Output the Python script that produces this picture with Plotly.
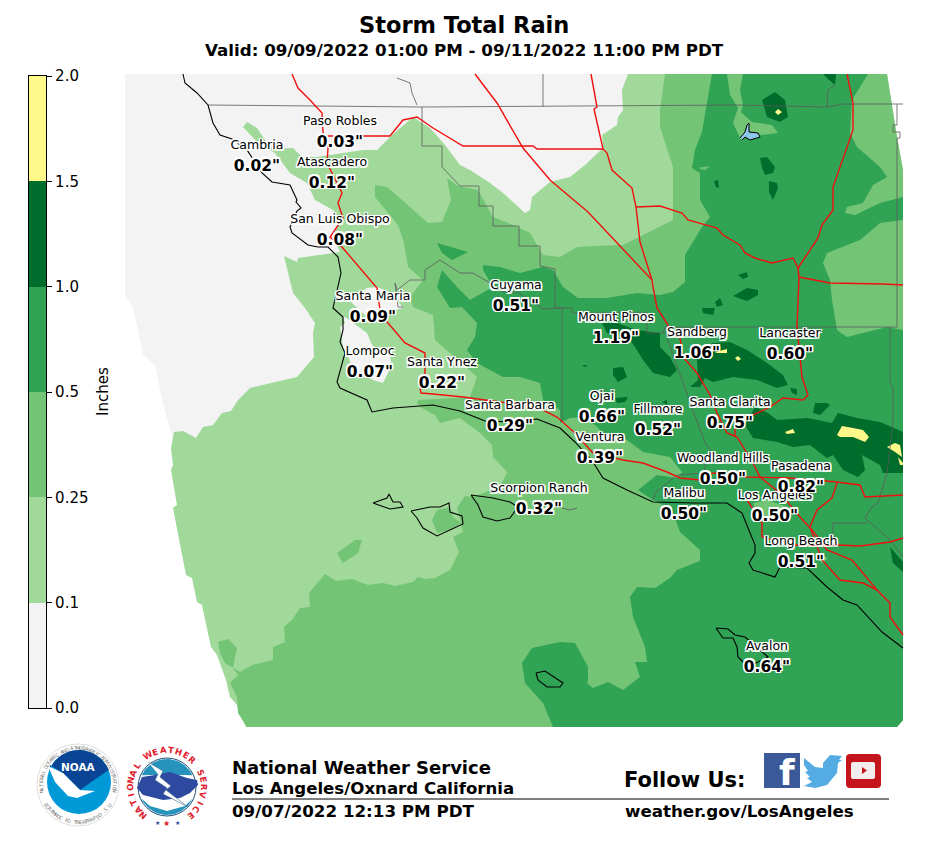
import numpy as np
import plotly.graph_objects as go

# page is 928x853, plotly sits 8px in because of the body margin
PAD = 8
W, H = 912, 837

FONT = "DejaVu Sans"
GREY, R010, R025, R050, R100, R150 = "#F3F3F3", "#A1D99B", "#74C476", "#31A354", "#006D2C", "#FFF98A"

# colour bar
band_labels = ["0.0", "0.1", "0.25", "0.5", "1.0", "1.5", "2.0"]
band_colors = [GREY, R010, R025, R050, R100, R150]

# rain areas (page pixels)
domain = [(125, 74), (887, 74), (897, 137), (903, 170), (903, 720), (897, 727), (246, 727), (240, 715), (237, 705),
          (230, 697), (226, 680), (217, 655), (211, 647), (202, 605), (197, 602), (192, 578), (186, 575), (173, 508),
          (177, 505), (171, 470), (173, 465), (171, 448), (174, 443), (162, 400), (155, 365), (143, 355), (133, 307),
          (125, 295)]
rain_010 = [[(246, 727), (240, 715), (237, 705), (230, 697), (226, 680), (217, 655), (211, 647), (202, 605), (197, 602),
             (192, 578), (186, 575), (173, 508), (177, 505), (171, 470), (173, 465), (171, 448), (174, 432), (183, 431),
             (196, 438), (203, 427), (213, 425), (222, 413), (231, 411), (238, 400), (250, 388), (297, 377), (314, 357),
             (313, 333), (315, 323), (305, 308), (293, 293), (284, 256), (297, 262), (298, 258), (340, 252), (333, 237),
             (340, 220), (333, 210), (315, 200), (307, 183), (290, 173), (275, 153), (260, 145), (243, 127), (247, 122),
             (257, 128), (267, 143), (275, 149), (293, 148), (302, 157), (317, 157), (363, 150), (377, 150), (392, 135),
             (413, 117), (430, 128), (445, 145), (460, 165), (470, 170), (490, 183), (503, 193), (525, 213), (530, 210),
             (532, 197), (550, 182), (570, 177), (585, 165), (603, 148), (602, 135), (617, 125), (618, 117), (623, 110),
             (622, 90), (627, 77), (628, 74), (887, 74), (897, 137), (903, 170), (903, 720), (897, 727)]]
grey_holes = [[(350, 300), (367, 288), (377, 287), (392, 293), (403, 308), (383, 313), (367, 317), (352, 303)],
              [(343, 317), (345, 323), (340, 327), (343, 347), (347, 353), (353, 370), (373, 380), (383, 383),
               (392, 365), (390, 357), (372, 345), (367, 333), (345, 317)]]
rain_025 = [[(247, 727), (238, 713), (237, 697), (230, 683), (238, 675), (233, 668), (235, 657), (237, 648), (228, 639),
             (218, 642), (220, 653), (225, 663), (240, 672), (252, 665), (273, 660), (273, 647), (285, 642), (284, 627),
             (292, 620), (300, 608), (310, 607), (309, 593), (325, 574), (336, 581), (352, 579), (368, 585), (383, 583),
             (395, 586), (413, 582), (418, 577), (425, 579), (435, 578), (450, 570), (459, 552), (453, 537), (463, 532),
             (457, 508), (465, 496), (472, 497), (500, 487), (507, 472), (493, 457), (492, 445), (480, 433), (460, 418),
             (440, 423), (435, 415), (420, 407), (417, 403), (418, 400), (470, 397), (477, 377), (450, 353), (435, 340),
             (433, 315), (413, 307), (410, 297), (423, 280), (408, 267), (404, 243), (398, 225), (375, 197), (375, 185),
             (387, 187), (410, 207), (428, 223), (442, 222), (451, 200), (447, 178), (458, 186), (478, 190), (493, 217),
             (518, 227), (530, 233), (543, 255), (560, 257), (577, 247), (593, 246), (623, 245), (647, 233), (673, 220),
             (673, 167), (660, 127), (660, 110), (665, 74), (887, 74), (897, 137), (903, 170), (903, 720), (897, 727)],
            [(432, 520), (437, 510), (450, 507), (453, 517), (462, 523), (450, 530), (437, 533)],
            [(337, 553), (355, 540), (362, 540), (358, 553), (343, 563)]]
rain_050 = [[(712, 74), (868, 74), (852, 100), (850, 133), (857, 147), (880, 167), (887, 177), (873, 185), (863, 203),
             (847, 207), (845, 213), (855, 215), (880, 203), (897, 198), (903, 197), (903, 220), (880, 223), (860, 240),
             (827, 253), (823, 263), (830, 280), (832, 300), (837, 330), (847, 337), (887, 327), (903, 330), (903, 720),
             (897, 727), (553, 727), (543, 703), (525, 683), (522, 663), (532, 648), (560, 642), (575, 643), (588, 667),
             (588, 680), (587, 683), (593, 688), (608, 682), (623, 690), (640, 677), (635, 662), (647, 662), (645, 647),
             (633, 617), (630, 597), (637, 587), (655, 588), (670, 578), (677, 570), (700, 561), (700, 550), (680, 532),
             (672, 510), (653, 500), (638, 490), (657, 475), (677, 478), (682, 472), (670, 457), (643, 452), (627, 440),
             (603, 433), (595, 425), (583, 417), (570, 418), (560, 423), (560, 410), (543, 400), (540, 383), (520, 377),
             (503, 377), (477, 363), (467, 350), (475, 337), (477, 323), (462, 307), (450, 308), (437, 287), (442, 270),
             (457, 287), (470, 300), (493, 287), (483, 270), (483, 265), (500, 267), (520, 273), (543, 267), (553, 270),
             (563, 287), (578, 298), (607, 298), (637, 293), (660, 295), (673, 292), (685, 282), (685, 255), (702, 227),
             (710, 217), (700, 200), (700, 173), (692, 168), (695, 150), (702, 132), (708, 97)],
            [(437, 243), (468, 252), (452, 260), (442, 253)]]
pale_spots = [[(727, 74), (743, 74), (740, 90), (743, 105), (741, 112), (752, 122), (772, 125), (778, 133), (740, 138),
               (733, 123), (738, 108), (730, 95)],
              [(698, 168), (710, 166), (705, 170)],
              [(813, 553), (828, 558), (822, 563)],
              [(753, 503), (767, 500), (788, 507), (780, 520), (760, 520)]]
rain_100 = [[(762, 100), (775, 92), (785, 100), (788, 117), (780, 122), (767, 117)],
            [(823, 74), (836, 74), (835, 85), (828, 79)],
            [(760, 158), (767, 157), (775, 167), (773, 173), (765, 175), (762, 168)],
            [(714, 181), (718, 180), (719, 188), (716, 187)],
            [(769, 181), (777, 183), (778, 188), (773, 200), (769, 192)],
            [(738, 275), (747, 272), (748, 277), (743, 279)],
            [(733, 296), (747, 288), (758, 290), (758, 295), (747, 301)],
            [(715, 302), (720, 298), (723, 305), (717, 307)],
            [(702, 308), (715, 308), (713, 315), (703, 313)],
            [(602, 323), (617, 323), (637, 330), (660, 333), (660, 347), (670, 357), (677, 370), (670, 377), (653, 373),
             (643, 360), (635, 347), (628, 337), (607, 333)],
            [(613, 368), (623, 367), (627, 377), (618, 382), (613, 375)],
            [(615, 398), (628, 397), (625, 402), (617, 403)],
            [(662, 402), (667, 400), (667, 405)],
            [(582, 365), (588, 365), (585, 367)],
            [(697, 358), (703, 347), (713, 343), (730, 342), (747, 350), (767, 363), (783, 375), (788, 385), (777, 388),
             (757, 380), (733, 377), (713, 382), (705, 378), (700, 387), (690, 387), (698, 380)],
            [(790, 388), (797, 389), (797, 395), (792, 393)],
            [(815, 403), (827, 403), (830, 405), (820, 415), (813, 413)],
            [(745, 425), (755, 407), (768, 413), (777, 420), (808, 418), (832, 423), (838, 413), (857, 418), (880, 422),
             (903, 432), (903, 473), (883, 473), (880, 465), (862, 455), (865, 470), (858, 477), (843, 470), (833, 455),
             (827, 458), (810, 445), (793, 447), (777, 442), (753, 438)],
            [(890, 547), (903, 562), (903, 572), (893, 563)]]
rain_150 = [[(775, 112), (778, 109), (782, 112), (778, 115)],
            [(715, 352), (727, 349), (727, 353), (717, 353)],
            [(735, 358), (738, 356), (741, 359), (738, 361)],
            [(785, 432), (793, 429), (795, 433), (787, 434)],
            [(837, 435), (842, 426), (853, 428), (863, 430), (869, 437), (865, 442), (853, 437), (840, 437)],
            [(887, 447), (895, 443), (900, 445), (902, 457), (895, 452)],
            [(898, 457), (903, 463), (903, 465), (900, 465)]]
lake = [[(740, 138), (745, 132), (747, 125), (749, 123), (749, 132), (758, 133), (760, 137), (750, 140), (745, 137),
         (742, 140)]]

# base map lines
coast = [[(183, 74), (185, 83), (197, 93), (208, 105), (213, 123), (220, 135), (232, 139), (247, 150), (262, 173),
          (272, 182), (290, 185), (297, 200), (296, 202), (301, 208), (297, 211), (290, 227), (292, 233), (308, 245),
          (318, 247), (328, 247), (338, 257), (341, 273), (333, 308), (343, 317), (343, 330), (340, 342), (345, 353),
          (337, 382), (340, 388), (367, 400), (372, 412), (393, 408), (433, 405), (460, 411), (485, 421), (513, 422),
          (537, 419), (560, 428), (575, 442), (593, 462), (603, 478), (627, 490), (653, 502), (693, 503), (727, 503),
          (742, 513), (755, 545), (755, 553), (749, 563), (753, 570), (775, 577), (778, 571), (780, 567), (807, 568),
          (827, 587), (843, 600), (857, 605), (882, 632), (903, 648)]]
islands = [[(373, 503), (387, 498), (389, 494), (393, 502), (400, 502), (403, 507), (390, 509), (380, 505), (373, 503)],
           [(411, 511), (430, 507), (440, 507), (449, 503), (450, 512), (462, 516), (463, 524), (450, 530), (437, 536),
            (423, 528), (417, 518), (411, 511)],
           [(471, 495), (493, 498), (510, 502), (518, 507), (510, 518), (497, 521), (483, 517), (478, 505), (471, 495)],
           [(716, 628), (728, 629), (735, 635), (745, 637), (768, 657), (748, 667), (738, 657), (737, 647), (733, 638),
            (723, 638), (716, 628)],
           [(536, 673), (545, 671), (563, 683), (560, 687), (547, 687), (538, 680), (536, 673)]]
highways = [[(292, 74), (298, 88), (310, 100), (322, 113), (323, 132), (328, 148), (327, 163), (342, 193), (338, 203),
             (343, 218), (330, 237), (342, 247), (377, 288), (380, 310), (388, 323), (405, 343), (425, 353), (425, 373),
             (420, 388), (421, 393), (433, 394), (463, 397), (500, 402), (537, 407), (557, 417), (575, 433), (593, 453),
             (623, 460), (643, 463), (667, 472), (680, 478), (700, 480), (713, 473), (747, 477), (790, 478), (837, 482),
             (860, 485), (865, 497), (903, 495)],
            [(323, 136), (365, 136), (390, 136), (403, 120), (417, 117), (433, 128), (463, 146), (533, 146), (537, 149),
             (590, 149), (603, 149)],
            [(475, 74), (497, 103), (523, 148), (550, 180), (588, 212), (652, 280), (653, 287), (657, 308), (668, 325),
             (667, 330), (680, 338), (683, 357), (697, 373), (710, 395), (717, 413), (727, 433), (737, 437), (753, 463),
             (760, 477), (780, 493), (800, 517), (812, 530), (827, 550), (852, 560), (877, 590), (890, 603), (890, 617),
             (903, 635)],
            [(591, 74), (597, 107), (594, 109), (603, 149), (607, 153), (612, 170), (632, 188), (636, 207), (640, 242),
             (652, 280)],
            [(636, 207), (660, 206), (682, 213), (688, 220), (717, 228), (723, 235), (740, 245), (745, 253), (755, 258),
             (772, 263), (793, 258), (798, 268)],
            [(847, 74), (853, 103), (853, 130), (833, 187), (833, 210), (822, 225), (818, 238), (798, 268)],
            [(798, 268), (799, 277), (797, 327), (800, 357), (802, 377), (808, 395), (803, 400), (783, 398), (770, 407),
             (753, 415), (735, 427), (735, 437)],
            [(799, 277), (830, 283), (883, 284), (903, 285)],
            [(837, 483), (832, 498), (817, 510), (810, 527), (822, 560), (840, 580), (863, 583), (877, 590)],
            [(747, 500), (762, 523), (762, 537), (790, 545), (838, 545), (860, 546), (890, 542), (903, 538)]]
counties = [[(208, 105), (422, 107), (738, 105), (827, 107), (843, 104), (903, 104)],
            [(543, 74), (543, 107)],
            [(397, 78), (410, 83), (412, 93), (417, 105)],
            [(422, 107), (422, 146), (442, 146), (442, 167), (460, 186), (479, 186), (479, 206), (493, 206), (493, 226),
             (519, 226), (519, 246), (540, 246), (540, 266), (555, 269), (555, 308), (572, 308), (573, 313), (647, 313),
             (647, 333), (663, 333), (665, 327), (897, 327)],
            [(562, 308), (562, 422)],
            [(897, 104), (897, 125), (893, 125), (893, 132), (900, 132), (900, 138), (897, 138), (897, 327)],
            [(890, 327), (890, 383), (893, 388), (893, 423), (887, 473), (878, 503), (872, 507), (865, 518), (890, 540),
             (903, 557)],
            [(833, 523), (867, 523)],
            [(833, 523), (833, 543)],
            [(835, 85), (828, 90), (827, 107)],
            [(395, 283), (397, 290), (410, 280), (425, 280), (425, 270), (440, 260), (460, 273), (473, 273), (490, 283),
             (503, 292), (517, 292), (543, 309), (562, 308)],
            [(395, 283), (398, 307), (403, 307)],
            [(665, 332), (683, 383), (705, 443), (713, 453), (705, 463), (705, 473), (677, 475), (655, 493), (653, 500)],
            [(562, 508), (570, 510), (577, 508)]]

# stations
station_names = ["Paso Robles", "Cambria", "Atascadero", "San Luis Obispo", "Santa Maria", "Lompoc", "Santa Ynez",
                 "Cuyama", "Mount Pinos", "Sandberg", "Lancaster", "Santa Barbara", "Ojai", "Fillmore", "Santa Clarita",
                 "Ventura", "Woodland Hills", "Pasadena", "Scorpion Ranch", "Malibu", "Los Angeles", "Long Beach",
                 "Avalon"]
station_rain = ['0.03"', '0.02"', '0.12"', '0.08"', '0.09"', '0.07"', '0.22"', '0.51"', '1.19"', '1.06"', '0.60"',
                '0.29"', '0.66"', '0.52"', '0.75"', '0.39"', '0.50"', '0.82"', '0.32"', '0.50"', '0.50"', '0.51"',
                '0.64"']
station_x = [340, 257, 332, 340, 373, 370, 442, 516, 616, 697, 790, 510, 602, 658, 730, 600, 723, 801, 539, 684, 775,
             801, 767]
station_y = [122, 146, 163, 220, 297, 352, 363, 286, 318, 333, 334, 406, 397, 410, 403, 438, 459, 467, 489, 494, 496,
             542, 647]
RAIN_DROP = 21  # value sits this far under the name

fig = go.Figure()


def flat(polys):
    xs, ys = [], []
    for poly in polys:
        xs += [p[0] for p in poly] + [None]
        ys += [p[1] for p in poly] + [None]
    return xs, ys


def add_fill(polys, color, line=None, width=0):
    xs, ys = flat(polys)
    fig.add_trace(go.Scatter(x=xs, y=ys, mode="lines", fill="toself", fillcolor=color,
                             line=dict(color=line or color, width=width)))


def add_lines(polys, color, width):
    xs, ys = flat(polys)
    fig.add_trace(go.Scatter(x=xs, y=ys, mode="lines", line=dict(color=color, width=width)))


add_fill([domain], GREY)
add_fill(rain_010, R010)
add_fill(grey_holes, GREY)
add_fill(rain_025, R025)
add_fill(rain_050, R050)
add_fill(pale_spots, R025)
add_fill(rain_100, R100)
add_fill(rain_150, R150)
add_fill(lake, "#8CC8EA", line="black", width=1)
add_lines(counties, "#5a5a5a", 0.8)
add_lines(highways, "#F01010", 1.4)
add_lines(coast, "black", 1.1)
add_lines(islands, "black", 1.1)

halo = ",".join(f"{a}px {b}px 0.5px #fff" for a in (-1.5, 0, 1.5) for b in (-1.5, 0, 1.5))
fig.add_trace(go.Scatter(x=station_x, y=station_y, mode="text", text=station_names,
                         textfont=dict(family=FONT, size=12.5, color="black", shadow=halo)))
fig.add_trace(go.Scatter(x=station_x, y=[v + RAIN_DROP for v in station_y], mode="text", text=station_rain,
                         textfont=dict(family=FONT, size=15.5, color="black", weight="bold", shadow=halo)))

# colour bar is a stack on its own little axis pair
for c in band_colors:
    fig.add_trace(go.Bar(x=[0], y=[1], width=1, marker=dict(color=c, line=dict(width=0)), xaxis="x2", yaxis="y2"))


def put(text, x, y, size, bold=False, color="black", angle=0, anchor="center"):
    fig.add_annotation(x=x, y=y, text=text, showarrow=False, xanchor=anchor, yanchor="middle", textangle=angle,
                       font=dict(family=FONT, size=size, color=color, weight="bold" if bold else "normal"))


put("Storm Total Rain", 464, 25, 22.5, True)
put("Valid: 09/09/2022 01:00 PM - 09/11/2022 11:00 PM PDT", 464, 50, 16.7, True)
put("Inches", 103, 392, 15, angle=-90)
put("National Weather Service", 230, 767, 18, True, anchor="left")
put("Los Angeles/Oxnard California", 230, 788, 16.6, True, anchor="left")
put("09/07/2022 12:13 PM PDT", 230, 811, 16.7, True, anchor="left")
put("Follow Us:", 622, 780, 21, True, anchor="left")
put("weather.gov/LosAngeles", 623, 811, 16.7, True, anchor="left")

shapes = [dict(type="line", x0=232, x1=889, y0=799, y1=799, line=dict(color="black", width=1))]


def disc(cx, cy, r, fill, line="rgba(0,0,0,0)", width=0):
    return dict(type="circle", x0=cx - r, x1=cx + r, y0=cy - r, y1=cy + r, fillcolor=fill, layer="below",
                line=dict(color=line, width=width))


def ring_text(text, cx, cy, r, start, end, size, color, bold=False, inward=False):
    # letters spaced along an arc, angles in degrees clockwise from 12 o'clock
    for ch, deg in zip(text, np.linspace(start, end, len(text))):
        a = np.radians(deg)
        put(ch, cx + r * np.sin(a), cy - r * np.cos(a), size, bold, color, angle=deg + (180 if inward else 0))


def arc(cx, cy, r, start, end, n=30):
    a = np.radians(np.linspace(start, end, n))
    return [(cx + r * np.sin(t), cy - r * np.cos(t)) for t in a]


# NOAA logo
shapes.append(disc(78, 785, 41, "white", "#c8c8c8", 0.6))
shapes.append(disc(79, 782, 32, "#0099D8"))
add_fill([arc(79, 782, 32, -68, 68) + [(97, 778), (80, 790), (63, 773), (50, 765)]], "#0A4595")
add_fill([[(48, 766), (63, 773), (80, 790), (95, 791), (77, 798), (68, 796), (55, 782)]], "white")
put("NOAA", 78, 767, 10.5, True, "white")
ring_text("NATIONAL OCEANIC AND ATMOSPHERIC ADMINISTRATION", 78, 785, 37, -100, 100, 5, "#777777")
ring_text("U.S. DEPARTMENT OF COMMERCE", 78, 785, 37, 122, 238, 5, "#777777", inward=True)

# NWS logo
shapes.append(disc(167, 787, 29, "white", "#20507a", 1))
add_fill([arc(167, 787, 28, -65, 65) + [(185, 775), (150, 775)]], "#2593BC")
add_fill([arc(167, 787, 28, 115, 245) + [(150, 806), (167, 811), (185, 806)]], "#2593BC")
add_fill([[(137, 788), (142, 777), (155, 775), (170, 772), (187, 778), (197, 780), (198, 785), (190, 793), (180, 798),
           (163, 800), (143, 795)]], "#2E4AA0")
add_fill([[(148, 762), (163, 771), (160, 777), (171, 786), (166, 790), (188, 807), (163, 794), (167, 788), (155, 780),
           (158, 774)]], "white", line="#20507a", width=0.5)
ring_text("NATIONAL WEATHER SERVICE", 167, 787, 37, -140, 140, 8.5, "#E2202C", True)
put("★", 157, 822, 6, color="#2E4AA0")
put("★", 166, 823, 8, color="#E2202C")
put("★", 177, 822, 6, color="#2E4AA0")

# social icons
shapes.append(dict(type="rect", x0=764, x1=800, y0=753, y1=788, fillcolor="#3B5998", line=dict(width=0)))
put("f", 787, 772, 36, True, "white")
add_fill([[(804, 758), (815, 767), (823, 768), (823, 763), (830, 755), (838, 756), (842, 756), (839, 760), (842, 760),
           (838, 763), (837, 773), (827, 785), (815, 788), (804, 786), (812, 782), (807, 778), (810, 777), (805, 772),
           (808, 771), (804, 765)]], "#55ACE4")
yt_box = "M 850 754 L 877 754 Q 881 754 881 758 L 881 784 Q 881 788 877 788 L 850 788 Q 846 788 846 784 L 846 758 Q 846 754 850 754 Z"
yt_screen = "M 853 762 L 873 762 Q 875 762 875 764 L 875 777 Q 875 779 873 779 L 853 779 Q 851 779 851 777 L 851 764 Q 851 762 853 762 Z"
shapes.append(dict(type="path", path=yt_box, fillcolor="#C4151C", line=dict(width=0)))
shapes.append(dict(type="path", path=yt_screen, fillcolor="#F4EDED", line=dict(width=0)))
shapes.append(dict(type="path", path="M 862 767 L 867 770.5 L 862 774 Z", fillcolor="#C4151C", line=dict(width=0)))

fig.update_layout(
    width=W, height=H, margin=dict(l=0, r=0, t=0, b=0, autoexpand=False), paper_bgcolor="white", plot_bgcolor="white",
    showlegend=False, hovermode=False, barmode="stack", shapes=shapes,
    xaxis=dict(range=[PAD, PAD + W], visible=False, domain=[0, 1], automargin=False),
    yaxis=dict(range=[PAD + H, PAD], visible=False, domain=[0, 1], automargin=False),
    xaxis2=dict(domain=[(29 - PAD) / W, (46 - PAD) / W], range=[-0.5, 0.5], anchor="y2", showticklabels=False,
                ticks="", showgrid=False, zeroline=False, showline=True, mirror=True, linecolor="black", linewidth=1.2,
                automargin=False),
    yaxis2=dict(domain=[(PAD + H - 708) / H, (PAD + H - 76) / H], range=[0, 6], anchor="x2", side="right",
                tickvals=list(range(7)), ticktext=band_labels, ticks="outside", ticklen=5, tickcolor="black",
                tickfont=dict(family=FONT, size=15, color="black"), showgrid=False, zeroline=False,
                showline=True, mirror=True, linecolor="black", linewidth=1.2, automargin=False),
)

fig.write_html("out.html")
